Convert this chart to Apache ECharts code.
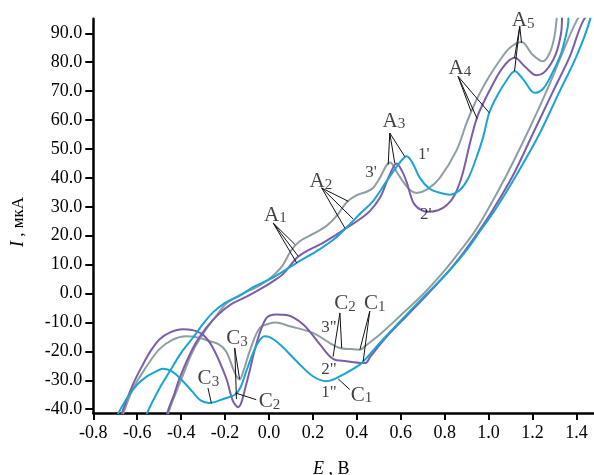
<!DOCTYPE html>
<html><head><meta charset="utf-8">
<script src="https://cdn.jsdelivr.net/npm/echarts@6/dist/echarts.min.js"></script>
<style>html,body{margin:0;padding:0;background:#fff}#c{width:594px;height:475px}</style>
</head><body><div id="c"></div>
<script>
// tick labels
const xTicks = [-0.8,-0.6,-0.4,-0.2,0.0,0.2,0.4,0.6,0.8,1.0,1.2,1.4];
const yTicks = [-40,-30,-20,-10,0,10,20,30,40,50,60,70,80,90];

// curve 1 (cyan): forward scan, reverse scan, cathodic part  [E, I]
const curve1 = [
 [-0.57,-45],[-0.55,-40.5],[-0.50,-33],[-0.452,-26.9],[-0.40,-20.5],[-0.346,-15.2],[-0.30,-10.5],[-0.255,-6.5],[-0.20,-3.2],[-0.13,-0.6],[-0.07,2.3],[0.02,5.6],[0.126,10.6],[0.23,15.3],[0.30,19],[0.368,24],[0.42,28],[0.474,32],[0.535,38.8],[0.60,45.7],[0.627,47.5],[0.655,45],[0.687,40],[0.73,36.3],[0.77,35],[0.824,34.2],[0.869,35.8],[0.905,39.5],[0.94,46],[0.975,54],[1.003,62.5],[1.04,68.5],[1.08,73.5],[1.119,76.9],[1.16,73.8],[1.21,69.4],[1.25,71],[1.285,75.5],[1.33,83],[1.36,92],[1.375,100],
 [1.47,100],[1.46,94.2],[1.40,82],[1.324,70],[1.23,55],[1.127,41],[1.03,29],[0.96,21.5],[0.9,15],[0.82,7.8],[0.72,0],[0.62,-7.8],[0.52,-15.8],[0.45,-21.8],[0.43,-23.4],
 [0.414,-24.6],[0.338,-28],[0.262,-30.3],[0.2,-28.6],[0.126,-23.4],[0.05,-17.6],[0.0,-15],[-0.02,-14.8],[-0.05,-17],[-0.08,-22],[-0.104,-27],[-0.13,-32.5],[-0.155,-35],[-0.195,-36.1],[-0.27,-37.8],[-0.31,-37],[-0.35,-33.8],[-0.392,-30.3],[-0.44,-27],[-0.483,-26],[-0.52,-27.2],[-0.559,-28.8],[-0.60,-31.5],[-0.645,-36],[-0.69,-42],[-0.70,-45]
];
// curve 2 (purple)
const curve2 = [
 [-0.475,-45],[-0.46,-40.5],[-0.43,-34.5],[-0.407,-29.2],[-0.346,-18.8],[-0.286,-11.9],[-0.23,-7.2],[-0.17,-3.6],[-0.10,-1.0],[-0.04,1.5],[0.018,4.2],[0.065,6.8],[0.126,12.3],[0.18,15],[0.24,17.3],[0.30,20],[0.353,22.7],[0.41,25.5],[0.459,28.5],[0.505,33.1],[0.55,41.1],[0.581,45],[0.605,42.5],[0.627,38.5],[0.657,31.5],[0.69,29],[0.725,28.3],[0.77,28.8],[0.809,30.5],[0.845,34],[0.88,41],[0.915,52],[0.948,61],[0.98,66.5],[1.01,71],[1.05,76.5],[1.085,80],[1.119,81.5],[1.165,78.5],[1.218,75.5],[1.26,77],[1.305,82.6],[1.33,90],[1.345,100],
 [1.49,100],[1.43,94.2],[1.37,82],[1.294,70],[1.20,55],[1.112,41],[1.02,29],[0.955,21.5],[0.892,14.8],[0.815,7.5],[0.725,0],[0.63,-7.5],[0.535,-15],[0.46,-22],[0.44,-24],
 [0.422,-24],[0.353,-23.4],[0.292,-22.6],[0.232,-17.6],[0.156,-10.7],[0.08,-7.4],[0.033,-7.2],[-0.013,-8.6],[-0.058,-17.6],[-0.104,-31.5],[-0.141,-39.3],[-0.165,-37],[-0.195,-29.2],[-0.255,-18.8],[-0.301,-14.2],[-0.35,-12.6],[-0.392,-12.3],[-0.45,-13.4],[-0.498,-15.8],[-0.54,-20],[-0.574,-24.5],[-0.62,-31.5],[-0.673,-42],[-0.68,-45]
];
// curve 3 (grey)
const curve3 = [
 [-0.47,-45],[-0.455,-40.5],[-0.40,-29.8],[-0.346,-19.8],[-0.286,-12.3],[-0.238,-7.5],[-0.195,-3.5],[-0.12,0],[-0.056,2.2],[0.0,5],[0.06,9.5],[0.10,14.8],[0.14,18.1],[0.20,20.6],[0.262,23.4],[0.31,27],[0.353,31.5],[0.40,34],[0.444,35.2],[0.474,36.5],[0.505,40],[0.535,44.3],[0.552,45.3],[0.58,42.3],[0.611,38.6],[0.645,35.6],[0.672,34.8],[0.72,36],[0.778,40],[0.854,49.5],[0.90,59],[0.93,64.5],[0.965,70],[1.006,75.5],[1.05,80.5],[1.097,85],[1.15,87],[1.2,82.6],[1.248,80.3],[1.28,83.5],[1.30,89],[1.31,95],[1.315,100],
 [1.455,100],[1.40,94.2],[1.33,82],[1.264,70],[1.173,55],[1.082,41],[1.0,29.5],[0.937,21.5],[0.869,14.6],[0.80,8],[0.705,0],[0.60,-7.5],[0.51,-13.8],[0.44,-18],
 [0.414,-19.4],[0.37,-19.2],[0.323,-18.8],[0.277,-17.1],[0.2,-13.6],[0.095,-11.3],[0.03,-10],[0.004,-10.3],[-0.043,-12],[-0.088,-20],[-0.115,-26.5],[-0.134,-29.7],[-0.155,-27.5],[-0.195,-20],[-0.23,-17.5],[-0.27,-16.5],[-0.32,-15.3],[-0.377,-14.8],[-0.44,-16],[-0.5,-19.3],[-0.56,-25.5],[-0.62,-33],[-0.666,-42],[-0.675,-45]
];

// annotation texts and their positions (data coordinates)
const noteTexts = ['{m|A}{s|1}','{m|A}{s|2}','{m|A}{s|3}','{m|A}{s|4}','{m|A}{s|5}',
  '{m|C}{s|3}','{m|C}{s|3}','{m|C}{s|2}','{m|C}{s|2}','{m|C}{s|1}','{m|C}{s|1}',
  "{p|3'}","{p|1'}","{p|2'}",'{p|3"}','{p|2"}','{p|1"}'];
const notePos = [[0.029,27.1],[0.236,38.7],[0.569,59.6],[0.869,77.7],[1.157,94.3],
  [-0.146,-15.6],[-0.276,-29.5],[0.002,-37.4],[0.346,-3.5],[0.482,-3.5],[0.421,-35.2],
  [0.465,42],[0.705,48.2],[0.714,27.4],[0.273,-11.6],[0.273,-26.2],[0.273,-34.1]];
// pointer lines: start, end (data coordinates)
const pointerFrom = [[0.019,24.4],[0.019,24.4],[0.019,24.4],
  [0.24,36.5],[0.24,36.5],[0.24,36.5],
  [0.55,55.5],[0.55,55.5],[0.55,55.5],
  [0.861,75.1],[0.861,75.1],[0.861,75.1],
  [1.142,92.4],[1.142,92.4],[1.142,92.4],
  [-0.156,-18.8],[-0.156,-18.8],
  [-0.278,-32.6],
  [-0.058,-36.7],
  [0.323,-6.7],[0.323,-6.7],
  [0.459,-6.1],[0.459,-6.1],
  [0.368,-33.2]];
const pointerTo = [[0.118,17.0],[0.133,12.9],[0.126,10.6],
  [0.361,31.9],[0.383,25.8],[0.346,22.6],
  [0.543,44.6],[0.573,45.0],[0.619,47.3],
  [0.92,63],[0.948,60.5],[1.003,62.5],
  [1.15,86.7],[1.118,81.5],[1.118,76.9],
  [-0.134,-29.5],[-0.148,-36.5],
  [-0.262,-38],
  [-0.152,-34.4],
  [0.292,-21.8],[0.331,-18.8],
  [0.414,-19.4],[0.429,-23.4],
  [0.315,-29.5]];

const FONT = "'Liberation Serif','Times New Roman',serif";
const chart = echarts.init(document.getElementById('c'), null, {renderer:'canvas'});

const curveSeries = [[curve3,'#8d9ea4'],[curve2,'#7b5ea7'],[curve1,'#1aa3d6']].map(([d,c]) => ({
  type:'line', data:d, showSymbol:false, smooth:0.35, clip:true,
  lineStyle:{color:c, width:2}, silent:true, z:3
}));

const option = {
  animation:false,
  grid:{left:93.3, right:0, top:18.8, bottom:62, containLabel:false, outerBoundsMode:'none'},
  xAxis:{
    type:'value', min:-0.8, max:1.48,
    name:'{i|E} , B', nameLocation:'middle', nameGap:47,
    nameTextStyle:{fontFamily:FONT, fontSize:18, color:'#000', padding:[0,25,0,0],
      rich:{i:{fontFamily:FONT, fontStyle:'italic', fontSize:18, color:'#000'}}},
    axisLine:{show:true, onZero:false, lineStyle:{color:'#000', width:2.5}},
    axisTick:{show:true, customValues:xTicks, length:7, lineStyle:{color:'#000', width:2}},
    axisLabel:{customValues:xTicks, formatter:v=>v.toFixed(1), fontFamily:FONT, fontSize:18, color:'#000', margin:11},
    splitLine:{show:false}
  },
  yAxis:{
    type:'value', min:-41.3, max:95,
    name:'{i|I} , мкА', nameLocation:'middle', nameGap:66,
    nameTextStyle:{fontFamily:FONT, fontSize:17, color:'#000', padding:[0,12,0,0],
      rich:{i:{fontFamily:FONT, fontStyle:'italic', fontSize:18, color:'#000'}}},
    axisLine:{show:true, onZero:false, lineStyle:{color:'#000', width:2.5}},
    axisTick:{show:true, customValues:yTicks, length:8, lineStyle:{color:'#000', width:2}},
    axisLabel:{customValues:yTicks, formatter:v=>v.toFixed(1), fontFamily:FONT, fontSize:18, color:'#000', margin:11},
    splitLine:{show:false}
  },
  series:[
    ...curveSeries,
    {
      type:'lines', coordinateSystem:'cartesian2d', silent:true, z:4,
      lineStyle:{color:'#111', width:1, opacity:1, curveness:0},
      data:pointerFrom.map((p,i)=>({coords:[p, pointerTo[i]]}))
    },
    {
      type:'scatter', symbolSize:0, silent:true, z:5,
      data:notePos.map((p,i)=>({value:p, label:{formatter:noteTexts[i]}})),
      label:{show:true, position:'inside', color:'#111',
        rich:{
          m:{fontFamily:FONT, fontSize:21, color:'#111', verticalAlign:'bottom'},
          s:{fontFamily:FONT, fontSize:15, color:'#111', verticalAlign:'bottom'},
          p:{fontFamily:FONT, fontSize:17, color:'#111'}
        }}
    }
  ]
};
chart.setOption(option);
</script></body></html>
